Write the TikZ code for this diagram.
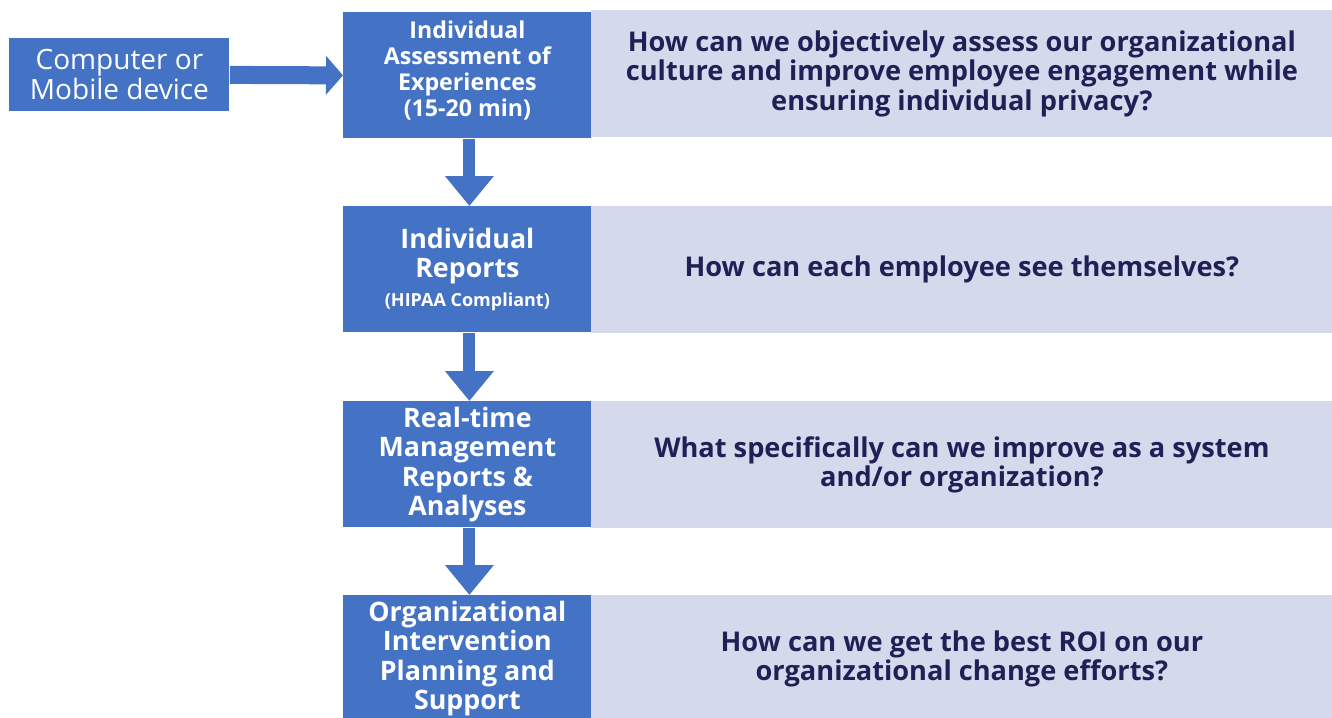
\documentclass[tikz,border=0pt]{standalone}
\usepackage{fontspec}
\setmainfont{Open Sans}
\usetikzlibrary{arrows.meta}

\definecolor{stepblue}{HTML}{4472C4}
\definecolor{questbg}{HTML}{D5D9EC}
\definecolor{questtxt}{HTML}{1F2156}

\begin{document}
\begin{tikzpicture}[
	x=0.5pt, y=-0.5pt,
	stage/.style={fill=stepblue, text=white, font=\bfseries\fontsize{13.4}{14.7}\selectfont,
		minimum width=124pt, minimum height=63pt, inner sep=0pt, align=center, anchor=north west},
	question/.style={fill=questbg, text=questtxt, font=\bfseries\fontsize{13.6}{14.6}\selectfont,
		minimum width=370.5pt, minimum height=63.5pt, inner sep=0pt, align=center, anchor=north west},
	flow/.style={draw=stepblue, line width=6pt, -{Triangle[length=15pt,width=23.5pt]}},
]

\clip (0,0) rectangle (1332,717);

%%% INPUT DEVICE
\node [fill=stepblue, text=white, font=\fontsize{14}{15}\selectfont, minimum width=110pt,
	minimum height=36.5pt, inner sep=0pt, align=center, anchor=north west]
	(device) at (9,38) {Computer or\\Mobile device};

%%% STAGES
\node [stage] (assess) at (343,12) {};
\node [font=\bfseries\fontsize{11.6}{13}\selectfont, text=white, align=center]
	(assesstext) at ([yshift=2.5pt]assess.center) {Individual\\Assessment of\\Experiences\\(15-20 min)};
\node [stage] (reports) at (343,206)
	{Individual\\Reports\\{\fontsize{9}{11}\selectfont (HIPAA Compliant)}};
\node [stage] (mgmt) at (343,401)
	{Real-time\\Management\\Reports \&\\Analyses};
\node [stage] (plan) at (343,595)
	{Organizational\\Intervention\\Planning and\\Support};

%%% QUESTIONS
\node [question] (q1) at (591,10)
	{How can we objectively assess our organizational\\culture and improve employee engagement while\\ensuring individual privacy?};
\node [question] (q2) at (591,206)
	{How can each employee see themselves?};
\node [question] (q3) at (591,401)
	{What specifically can we improve as a system\\and/or organization?};
\node [question] (q4) at (591,595)
	{How can we get the best ROI on our\\organizational change efforts?};

%%% ARROWS
\draw [draw=stepblue, line width=9pt, -{Triangle[length=8.5pt,width=19pt]}]
	(device.east) -- (assess.west);
\draw [flow] ([xshift=1pt]assess.south) -- ([xshift=1pt]reports.north);
\draw [flow] ([xshift=1pt]reports.south) -- ([xshift=1pt]mgmt.north);
\draw [flow] ([xshift=1pt]mgmt.south) -- ([xshift=1pt]plan.north);

\end{tikzpicture}
\end{document}
